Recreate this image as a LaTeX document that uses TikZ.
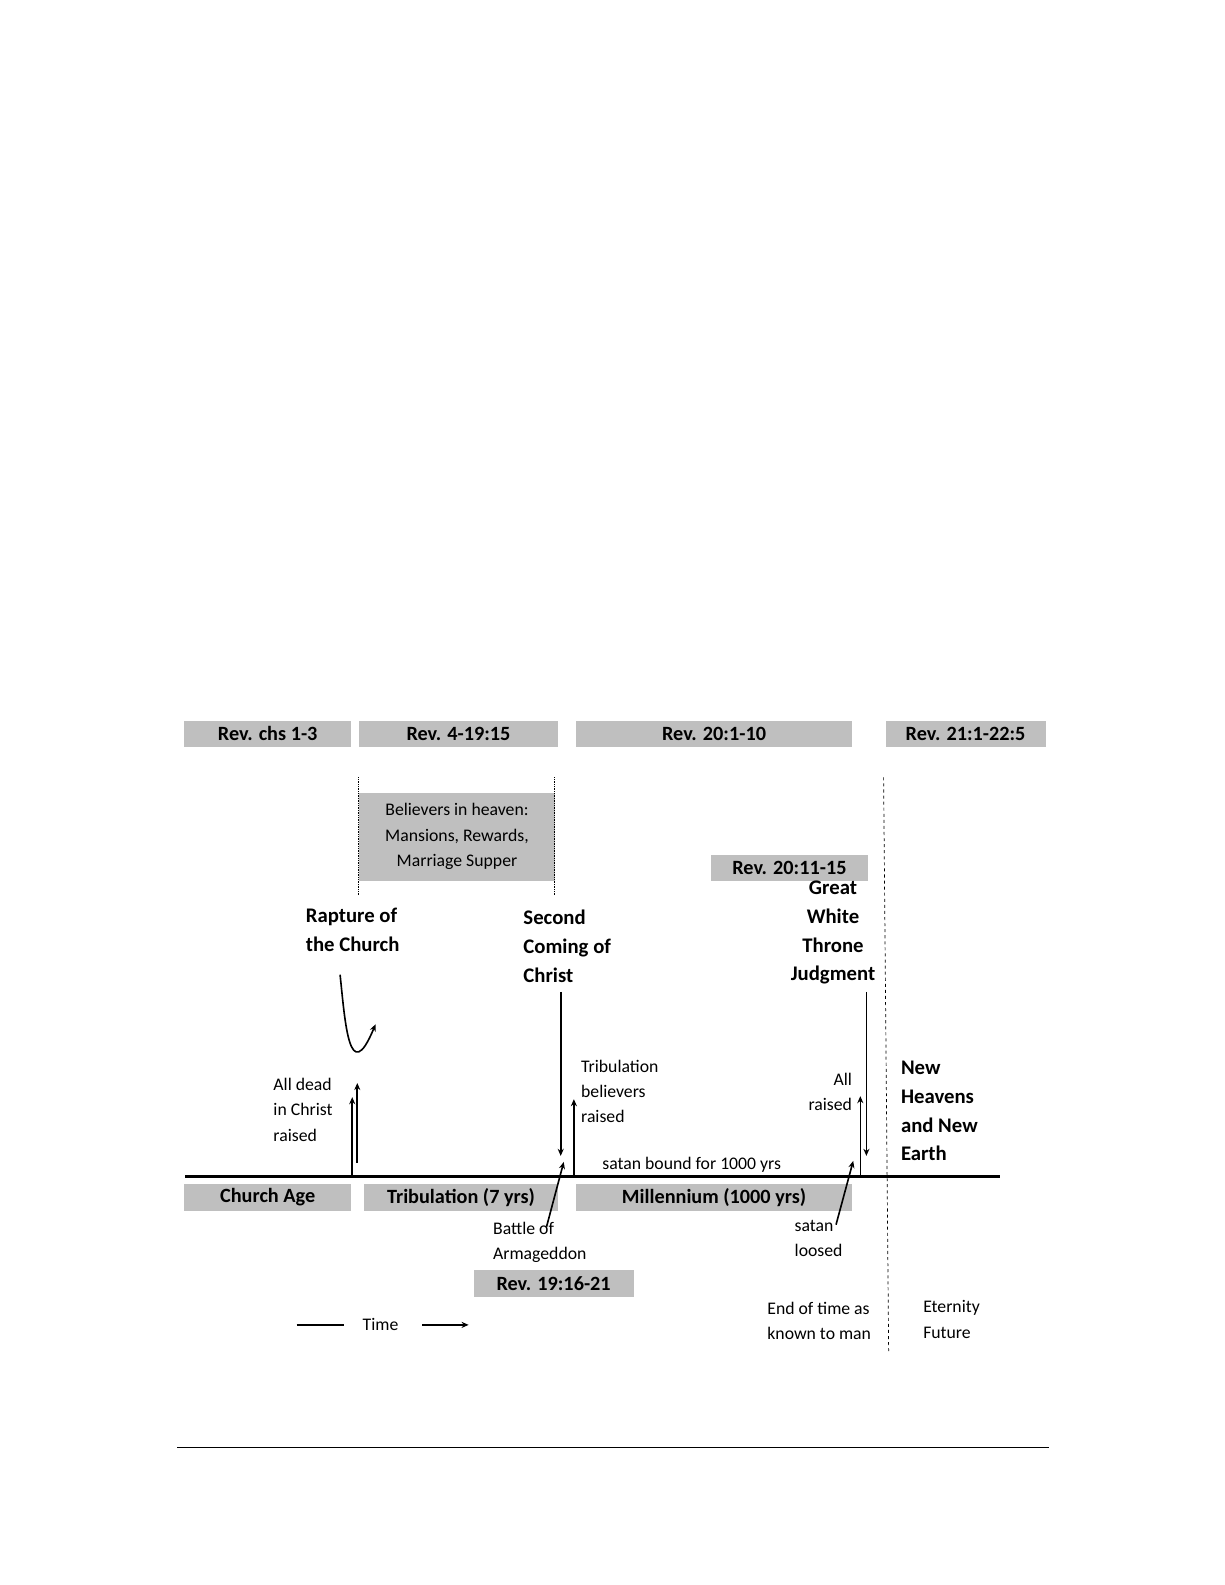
\documentclass[tikz,border=0pt]{standalone}
\usepackage{fontspec}
\setmainfont{Carlito}
\usetikzlibrary{arrows.meta}
\setlength{\parindent}{0pt}
\begin{document}
\begin{tikzpicture}[x=1pt,y=-1pt,
  gbox/.style={fill=black!25,draw=none,inner sep=0pt,font=\fontsize{20}{22}\selectfont\bfseries},
  big/.style={font=\fontsize{20.5}{28.5}\selectfont\bfseries,align=left,inner sep=0pt},
  small/.style={font=\fontsize{17.5}{25}\selectfont,align=left,inner sep=0pt},
  arr/.style={line width=1.6pt,-{Stealth[length=7pt,width=6pt]}},
  dotv/.style={densely dotted,line width=0.7pt}]
\useasboundingbox (0,0) rectangle (1210.3,1566);
% top boxes
\node[gbox,minimum width=165,minimum height=26] (r1) at (264.5,725) {Rev. chs 1-3};
\node[gbox,minimum width=196,minimum height=26] (r2) at (453,725) {Rev. 4-19:15};
\node[gbox,minimum width=273,minimum height=26] (r3) at (705.5,725) {Rev. 20:1-10};
\node[gbox,minimum width=158,minimum height=26] (r4) at (954,725) {Rev. 21:1-22:5};
% believers
\node[fill=black!25,minimum width=193,minimum height=87,inner sep=0pt,font=\fontsize{17.5}{25}\selectfont,align=center] (bel) at (451.5,826.5) {Believers in heaven:\\Mansions, Rewards,\\Marriage Supper};
\coordinate (d1a) at (354,768); \coordinate (d1b) at (354,885);
\coordinate (d2a) at (548,768); \coordinate (d2b) at (548,885);
\draw[dotv] (d1a) -- (d1b); \draw[dotv] (d2a) -- (d2b);
\node[gbox,minimum width=156,minimum height=25] (r5) at (780,857.5) {Rev. 20:11-15};
% dashed line
\coordinate (e1) at (873,768); \coordinate (e2) at (878,1335);
\draw[dashed,line width=0.7pt] (e1) -- (e2);
% timeline
\coordinate (t1) at (183,1162); \coordinate (t2) at (988,1162);
\draw[line width=3pt] (t1) -- (t2);
\node[gbox,minimum width=165,minimum height=26] (ca) at (264.5,1183) {Church Age};
\node[gbox,minimum width=191,minimum height=26] (tr) at (455.5,1183) {Tribulation (7 yrs)};
\node[gbox,minimum width=273,minimum height=26] (mi) at (705.5,1183) {Millennium (1000 yrs)};
\node[gbox,minimum width=158,minimum height=26] (r6) at (547,1268) {Rev. 19:16-21};
% bold labels
\node[big,anchor=north west] (rap) at (302,897) {Rapture of\\the Church};
\node[big,anchor=north west] (sec) at (517,899) {Second\\Coming of\\Christ};
\node[big,anchor=north,align=center] (gwt) at (823,870) {Great\\White\\Throne\\Judgment};
\node[big,anchor=north west] (nh) at (890,1048) {New\\Heavens\\and New\\Earth};
% small labels
\node[small,anchor=north west] (ad) at (270,1065) {All dead\\in Christ\\raised};
\node[small,anchor=north west] (tb) at (574,1047) {Tribulation\\believers\\raised};
\node[small,anchor=north east,align=right] (ar) at (842,1060) {All\\raised};
\node[small,anchor=west] (sb) at (595,1151) {satan bound for 1000 yrs};
\node[small,anchor=north west] (ba) at (487,1207) {Battle of\\Armageddon};
\node[small,anchor=north west] (sl) at (785,1205) {satan\\loosed};
\node[small,anchor=north west] (en) at (758,1286) {End of time as\\known to man};
\node[small,anchor=north west] (et) at (912,1285) {Eternity\\Future};
\node[small] (time) at (376,1309) {Time};
\coordinate (tl1) at (293,1309); \coordinate (tl2) at (340,1309);
\coordinate (ta1) at (417,1309); \coordinate (ta2) at (463,1309);
\draw[line width=1.6pt] (tl1) -- (tl2);
\draw[line width=1.6pt,-{Stealth[length=7pt,width=6pt]}] (ta1) -- (ta2);
% arrows
\coordinate (a1) at (348,1162); \coordinate (a1e) at (348,1084);
\coordinate (a2) at (353,1149); \coordinate (a2e) at (353,1070);
\draw[arr] (a1) -- (a1e); \draw[arr] (a2) -- (a2e);
\coordinate (c1) at (336,963); \coordinate (c2) at (371,1012);
\draw[arr] (c1) .. controls (341,1010) and (345,1075) .. (c2);
\coordinate (s1) at (554,980); \coordinate (s2) at (554,1142);
\draw[arr] (s1) -- (s2);
\coordinate (u1) at (567,1162); \coordinate (u2) at (567,1086);
\draw[arr] (u1) -- (u2);
\coordinate (b1) at (540,1212); \coordinate (b2) at (557,1148);
\draw[arr] (b1) -- (b2);
\coordinate (g1) at (856,980); \coordinate (g2) at (856,1142);
\draw[arr] (g1) -- (g2);
\coordinate (v1) at (850,1162); \coordinate (v2) at (850,1083);
\draw[arr] (v1) -- (v2);
\coordinate (l1) at (826,1210); \coordinate (l2) at (843,1147);
\draw[arr] (l1) -- (l2);
% footer line
\coordinate (f1) at (175,1430); \coordinate (f2) at (1036,1430);
\draw[line width=0.8pt] (f1) -- (f2);
\end{tikzpicture}
\end{document}
